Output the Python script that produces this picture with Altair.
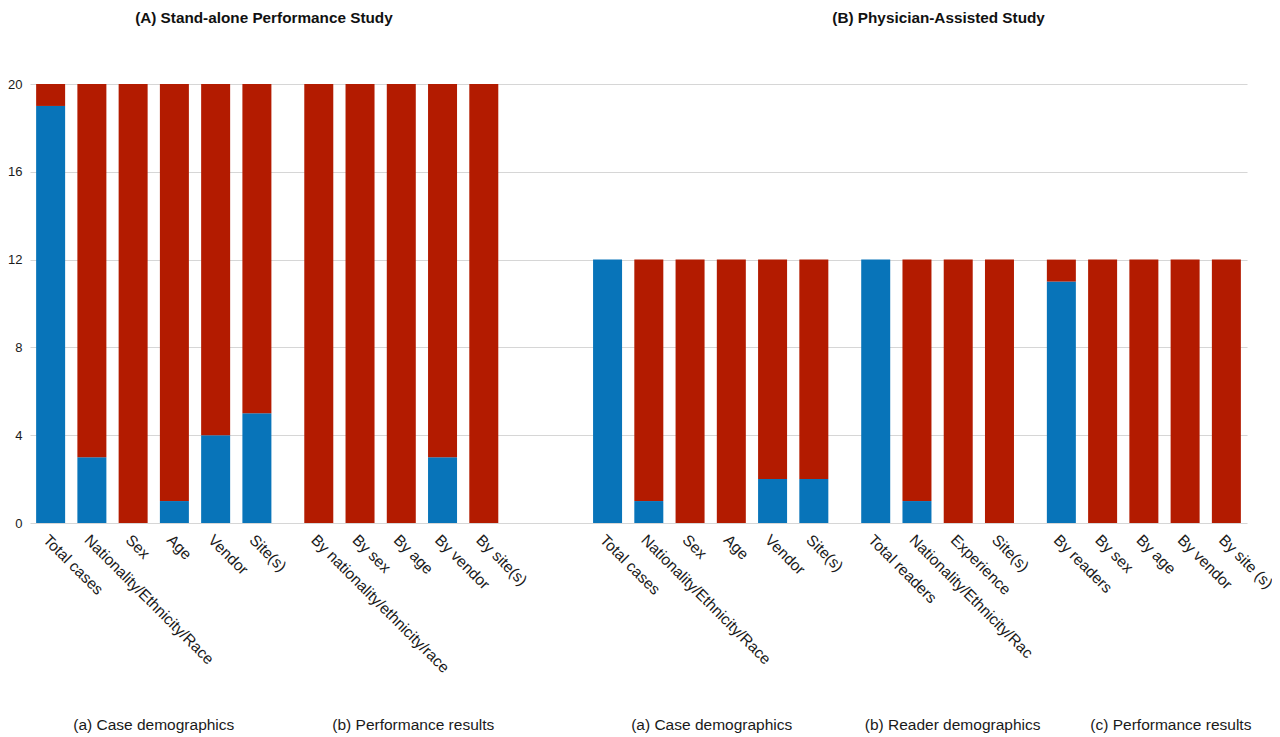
import altair as alt
import pandas as pd

# ---- data ----
a1_labels = ["Total cases", "Nationality/Ethnicity/Race", "Sex", "Age", "Vendor", "Site(s)"]
a1_blue = [19, 3, 0, 1, 4, 5]
a1_red = [1, 17, 20, 19, 16, 15]

a2_labels = ["By nationality/ethnicity/race", "By sex", "By age", "By vendor", "By site(s)"]
a2_blue = [0, 0, 0, 3, 0]
a2_red = [20, 20, 20, 17, 20]

b1_labels = ["Total cases", "Nationality/Ethnicity/Race", "Sex", "Age", "Vendor", "Site(s)"]
b1_blue = [12, 1, 0, 0, 2, 2]
b1_red = [0, 11, 12, 12, 10, 10]

b2_labels = ["Total readers", "Nationality/Ethnicity/Rac", "Experience", "Site(s)"]
b2_blue = [12, 1, 0, 0]
b2_red = [0, 11, 12, 12]

b3_labels = ["By readers", "By sex", "By age", "By vendor", "By site (s)"]
b3_blue = [11, 0, 0, 0, 0]
b3_red = [1, 12, 12, 12, 12]

group_titles = ["(a) Case demographics", "(b) Performance results",
                "(a) Case demographics", "(b) Reader demographics", "(c) Performance results"]
study_titles = ["(A) Stand-alone Performance Study", "(B) Physician-Assisted Study"]
series_names = ["Reported", "Not reported"]
series_colors = ["#0874B9", "#B31B00"]
y_ticks = [0, 4, 8, 12, 16, 20]

# ---- layout of the category axis (half-step slots, gaps between groups) ----
groups = [(a1_labels, a1_blue, a1_red), (a2_labels, a2_blue, a2_red),
          (b1_labels, b1_blue, b1_red), (b2_labels, b2_blue, b2_red),
          (b3_labels, b3_blue, b3_red)]
group_start = [0, 13, 27, 40, 49]
n_slots = 58

slot_keys = [f"{i:02d}|" for i in range(n_slots)]
rows = []
for (labels, blue, red), start in zip(groups, group_start):
    for j, lab in enumerate(labels):
        s = start + 2 * j
        key = f"{s:02d}|{lab}"
        slot_keys[s] = key
        rows.append({"key": key, "series": series_names[0], "value": blue[j], "rank": 0})
        rows.append({"key": key, "series": series_names[1], "value": red[j], "rank": 1})
bars_df = pd.DataFrame(rows)

FONT = "Liberation Sans"

x_scale = alt.Scale(domain=slot_keys, paddingInner=0, paddingOuter=0.5)
x_axis = alt.Axis(
    title=None, labelAngle=45, labelExpr="split(datum.value, '|')[1]",
    domain=False, ticks=False, tickSize=0, labelPadding=9, labelLimit=400,
    labelFontSize=15.5, labelColor="#1a1a1a", labelFont=FONT, grid=False,
    labelOverlap=False, labelBound=False,
)
X = alt.X("key:N", scale=x_scale, axis=x_axis)

bars = alt.Chart(bars_df).mark_bar(width=29).encode(
    x=X,
    y=alt.Y("value:Q", stack="zero",
            scale=alt.Scale(domain=[0, 20], nice=False),
            axis=alt.Axis(title=None, values=y_ticks, domain=False, ticks=False,
                          labelPadding=8, labelFontSize=13, labelColor="#1a1a1a",
                          labelFont=FONT, gridColor="#d6d6d6", gridWidth=1.2)),
    color=alt.Color("series:N", scale=alt.Scale(domain=series_names, range=series_colors),
                    legend=None),
    order=alt.Order("rank:Q"),
)

layers = [bars]

# study titles (anchored to slots of the shared band scale)
title_slots = [10, 43]
title_dx = [7, 1]
for t, s, d in zip(study_titles, title_slots, title_dx):
    df = pd.DataFrame({"key": [slot_keys[s]], "text": [t]})
    layers.append(
        alt.Chart(df).mark_text(fontSize=15.3, fontWeight="bold", font=FONT, color="#111111",
                                baseline="alphabetic", dx=d).encode(
            x=X, y=alt.value(-61), text="text:N")
    )

# group subtitles
sub_slots = [5, 17, 32, 43, 53]
sub_dx = [0, 12, 1, 15, 27]
for t, s, d in zip(group_titles, sub_slots, sub_dx):
    df = pd.DataFrame({"key": [slot_keys[s]], "text": [t]})
    layers.append(
        alt.Chart(df).mark_text(fontSize=15.5, font=FONT, color="#1a1a1a",
                                baseline="alphabetic", dx=d).encode(
            x=X, y=alt.value(646), text="text:N")
    )

chart = alt.layer(*layers).properties(
    width=1217, height=439,
    autosize=alt.AutoSizeParams(type="none"),
    padding={"left": 22, "top": 76, "right": 25, "bottom": 211},
).configure_view(stroke=None)

chart.save("out.html", embed_options={"renderer": "svg", "actions": False})
